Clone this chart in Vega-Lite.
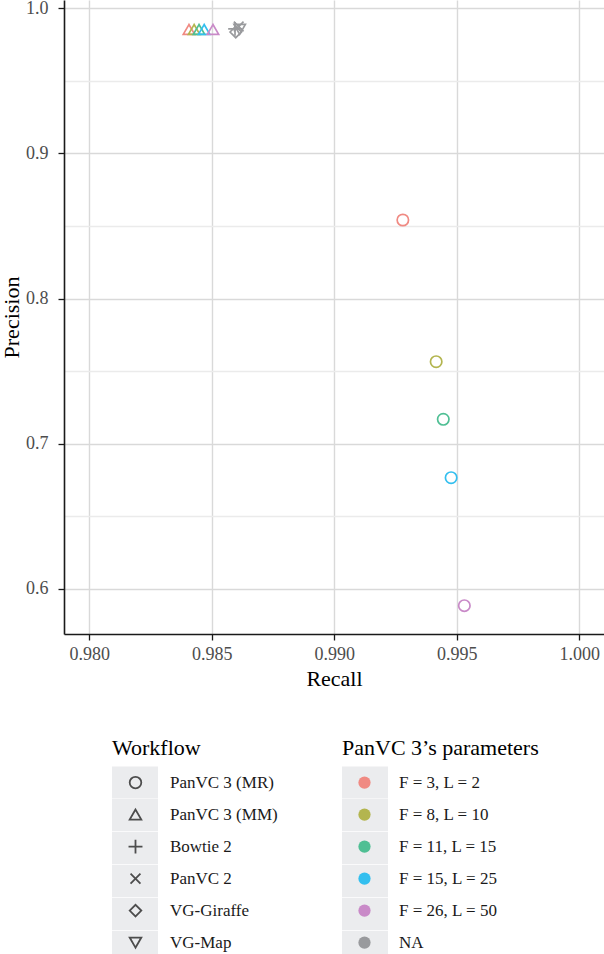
{
  "$schema": "https://vega.github.io/schema/vega-lite/v6.json",
  "width": 540,
  "height": 634,
  "autosize": "none",
  "padding": {"left": 64, "top": 0, "right": 0, "bottom": 320},
  "background": "white",
  "config": {
    "view": {"stroke": null},
    "font": "Liberation Serif",
    "axis": {
      "domainColor": "#1a1a1a",
      "domainWidth": 1.6,
      "tickColor": "#1a1a1a",
      "tickSize": 6,
      "tickWidth": 1.3,
      "labelColor": "#4d4d4d",
      "labelFont": "Liberation Serif",
      "labelFontSize": 18,
      "titleFont": "Liberation Serif",
      "titleFontSize": 22,
      "titleFontWeight": "normal",
      "titleColor": "#000000",
      "gridColor": "#d9d9d9",
      "gridWidth": 1.4
    },
    "legend": {
      "padding": 0,
      "titleFont": "Liberation Serif",
      "titleFontSize": 22,
      "titleFontWeight": "normal",
      "titleColor": "#000000",
      "titleLimit": 400,
      "labelFont": "Liberation Serif",
      "labelFontSize": 17,
      "labelColor": "#1a1a1a",
      "labelLimit": 300
    }
  },
  "datasets": {
    "bg": [
      {"key": "k01"}, {"key": "k02"}, {"key": "k03"}, {"key": "k04"},
      {"key": "k05"}, {"key": "k06"}, {"key": "k07"}, {"key": "k08"},
      {"key": "k09"}, {"key": "k10"}, {"key": "k11"}, {"key": "k12"}
    ],
    "points": [
      {"workflow": "PanVC 3 (MR)", "params": "F = 3, L = 2", "recall": 0.99280, "precision": 0.85413},
      {"workflow": "PanVC 3 (MR)", "params": "F = 8, L = 10", "recall": 0.99416, "precision": 0.75654},
      {"workflow": "PanVC 3 (MR)", "params": "F = 11, L = 15", "recall": 0.99445, "precision": 0.71687},
      {"workflow": "PanVC 3 (MR)", "params": "F = 15, L = 25", "recall": 0.99477, "precision": 0.67665},
      {"workflow": "PanVC 3 (MR)", "params": "F = 26, L = 50", "recall": 0.99531, "precision": 0.58850},
      {"workflow": "PanVC 3 (MM)", "params": "F = 3, L = 2", "recall": 0.98407, "precision": 0.98533},
      {"workflow": "PanVC 3 (MM)", "params": "F = 8, L = 10", "recall": 0.98428, "precision": 0.98533},
      {"workflow": "PanVC 3 (MM)", "params": "F = 11, L = 15", "recall": 0.98448, "precision": 0.98533},
      {"workflow": "PanVC 3 (MM)", "params": "F = 15, L = 25", "recall": 0.98469, "precision": 0.98533},
      {"workflow": "PanVC 3 (MM)", "params": "F = 26, L = 50", "recall": 0.98505, "precision": 0.98533},
      {"workflow": "Bowtie 2", "params": "NA", "recall": 0.98595, "precision": 0.98580},
      {"workflow": "PanVC 2", "params": "NA", "recall": 0.98610, "precision": 0.98740},
      {"workflow": "VG-Giraffe", "params": "NA", "recall": 0.98598, "precision": 0.98360},
      {"workflow": "VG-Map", "params": "NA", "recall": 0.98614, "precision": 0.98540}
    ]
  },
  "layer": [
    {
      "data": {"name": "bg"},
      "mark": {"type": "point", "filled": true, "opacity": 0},
      "encoding": {
        "color": {
          "field": "key",
          "type": "nominal",
          "scale": {
            "domain": ["k01","k02","k03","k04","k05","k06","k07","k08","k09","k10","k11","k12"],
            "range": ["#ebecee","#ebecee","#ebecee","#ebecee","#ebecee","#ebecee","#ebecee","#ebecee","#ebecee","#ebecee","#ebecee","#ebecee"]
          },
          "legend": {
            "orient": "none",
            "legendX": 48,
            "legendY": 766,
            "title": null,
            "columns": 2,
            "columnPadding": 184,
            "rowPadding": -1,
            "clipHeight": 32.2,
            "symbolType": "M-1,-0.73L1,-0.73L1,0.73L-1,0.73Z",
            "symbolSize": 2116,
            "symbolStrokeWidth": 0,
            "symbolOpacity": 1,
            "symbolOffset": 0,
            "labelExpr": "''",
            "labelFontSize": 1,
            "labelOffset": 0
          }
        }
      }
    },
    {
      "data": {"name": "points"},
      "mark": {"type": "point", "filled": true, "opacity": 0, "size": 10},
      "encoding": {
        "x": {"field": "recall", "type": "quantitative"},
        "y": {"field": "precision", "type": "quantitative"},
        "fill": {
          "field": "params",
          "type": "nominal",
          "title": "PanVC 3’s parameters",
          "scale": {
            "domain": ["F = 3, L = 2", "F = 8, L = 10", "F = 11, L = 15", "F = 15, L = 25", "F = 26, L = 50", "NA"],
            "range": ["#f08a83", "#b3b54f", "#4fbf94", "#33bfef", "#c98ac8", "#999a9d"]
          },
          "legend": {
            "orient": "none",
            "legendX": 278,
            "legendY": 738,
            "titlePadding": 7,
            "rowPadding": 0,
            "clipHeight": 31.2,
            "symbolType": "circle",
            "symbolSize": 150,
            "symbolOffset": 14,
            "labelOffset": 26,
            "symbolOpacity": 1,
            "symbolStrokeWidth": 0
          }
        }
      }
    },
    {
      "data": {"name": "points"},
      "mark": {"type": "point", "filled": false, "strokeWidth": 1.7, "size": 130, "opacity": 1},
      "encoding": {
        "x": {
          "field": "recall",
          "type": "quantitative",
          "title": "Recall",
          "scale": {"domain": [0.97897, 1.00101], "nice": false, "zero": false},
          "axis": {
            "values": [0.98, 0.985, 0.99, 0.995, 1.0],
            "format": ".3f",
            "labelPadding": 5,
            "titlePadding": 5
          }
        },
        "y": {
          "field": "precision",
          "type": "quantitative",
          "title": "Precision",
          "scale": {"domain": [0.569, 1.00565], "nice": false, "zero": false},
          "axis": {
            "values": [0.6, 0.65, 0.7, 0.75, 0.8, 0.85, 0.9, 0.95, 1.0],
            "labelExpr": "abs(datum.value*10 - round(datum.value*10)) > 0.01 ? '' : format(datum.value, '.1f')",
            "gridColor": {"condition": {"test": "abs(datum.value*10 - round(datum.value*10)) > 0.01", "value": "#ebebeb"}, "value": "#d9d9d9"},
            "tickColor": {"condition": {"test": "abs(datum.value*10 - round(datum.value*10)) > 0.01", "value": "transparent"}, "value": "#1a1a1a"},
            "labelPadding": 10,
            "titlePadding": 2
          }
        },
        "stroke": {
          "field": "params",
          "type": "nominal",
          "scale": {
            "domain": ["F = 3, L = 2", "F = 8, L = 10", "F = 11, L = 15", "F = 15, L = 25", "F = 26, L = 50", "NA"],
            "range": ["#f08a83", "#b3b54f", "#4fbf94", "#33bfef", "#c98ac8", "#999a9d"]
          },
          "legend": null
        },
        "shape": {
          "field": "workflow",
          "type": "nominal",
          "title": "Workflow",
          "scale": {
            "domain": ["PanVC 3 (MR)", "PanVC 3 (MM)", "Bowtie 2", "PanVC 2", "VG-Giraffe", "VG-Map"],
            "range": ["circle", "triangle-up", "M-1.2,0L1.2,0M0,-1.2L0,1.2", "M-0.85,-0.85L0.85,0.85M-0.85,0.85L0.85,-0.85", "diamond", "triangle-down"]
          },
          "legend": {
            "orient": "none",
            "legendX": 48,
            "legendY": 738,
            "titlePadding": 7,
            "rowPadding": 0,
            "clipHeight": 31.2,
            "symbolSize": 135,
            "symbolOffset": 15,
            "labelOffset": 26,
            "symbolFillColor": "transparent",
            "symbolStrokeColor": "#4d4d4d",
            "symbolStrokeWidth": 1.8
          }
        }
      }
    }
  ]
}
